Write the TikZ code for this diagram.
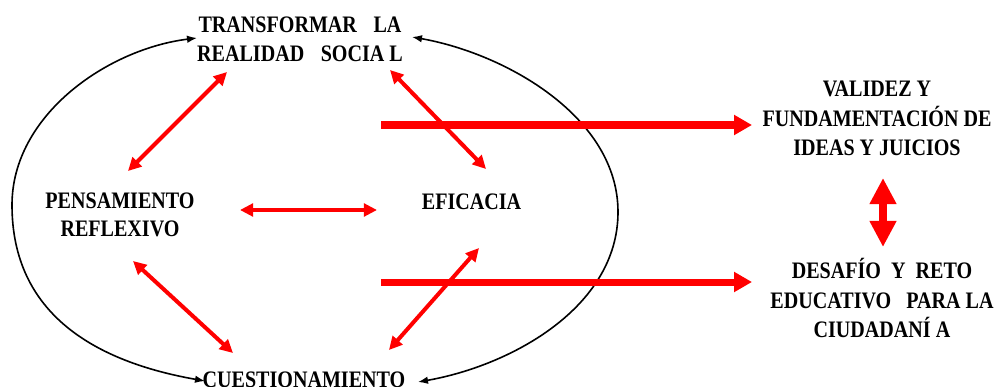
\documentclass[tikz,border=0pt]{standalone}
\usepackage{fontspec}
\setmainfont{Liberation Serif}[FakeStretch=0.85]
\usetikzlibrary{arrows.meta,calc}
\begin{document}
\begin{tikzpicture}[x=0.025cm,y=0.025cm,
  lbl/.style={font=\bfseries\fontsize{16.8}{21}\selectfont, align=center, inner sep=0pt, text=black},
  redthin/.style={draw=red, line width=0.1cm, {Triangle[length=0.33cm,width=0.32cm]}-{Triangle[length=0.33cm,width=0.32cm]}},
  redthick/.style={draw=red, line width=0.175cm, -{Triangle[length=0.45cm,width=0.48cm]}},
  redvert/.style={draw=red, line width=0.2cm, {Triangle[length=0.65cm,width=0.63cm]}-{Triangle[length=0.65cm,width=0.63cm]}},
  blackarc/.style={draw=black, line width=0.04cm, {Latex[length=0.25cm,width=0.19cm]}-{Latex[length=0.25cm,width=0.19cm]}}
]
\useasboundingbox (0,0) rectangle (1000,-387);

% text nodes
\node[lbl] (top) at (300,-39.5) {TRANSFORMAR\hspace{0.7em}LA\\REALIDAD\hspace{0.7em}SOCIA~L};
\node[lbl] (bot) at (304,-380) {CUESTIONAMIENTO};
\node[lbl] (pens) at (120,-214.5) {PENSAMIENTO\\[-1.2pt]REFLEXIVO};
\node[lbl] (efic) at (471.5,-202) {EFICACIA};
\node[lbl] (valid) at (877,-118.5) {VALIDEZ Y\\FUNDAMENTACIÓN DE\\IDEAS Y JUICIOS};
\node[lbl] (desaf) at (882,-300.5) {DESAF\smash{Í}O~~Y~~RETO\\EDUCATIVO~~~PARA LA\\CIUDADAN\smash{Í}~A};

% black curved connectors (ellipse)
\coordinate (tl) at (197,-38);
\coordinate (bl) at (205,-381);
\coordinate (lm) at (12,-205);
\coordinate (tr) at (412,-37);
\coordinate (br) at (418,-382);
\coordinate (rm) at (618,-212);
\draw[blackarc] (tl) .. controls (107.7,-49) and (12,-115) .. (lm)
                     .. controls (12,-315) and (96.7,-361.9) .. (bl);
\draw[blackarc] (tr) .. controls (505.6,-53.5) and (618,-117) .. (rm)
                     .. controls (618,-307) and (511.6,-365.5) .. (br);

% thin red double arrows
\coordinate (a1s) at (227,-72);  \coordinate (a1e) at (128,-171);
\coordinate (a2s) at (390,-70);  \coordinate (a2e) at (486,-169);
\coordinate (a3s) at (240,-210); \coordinate (a3e) at (377,-210);
\coordinate (a4s) at (133,-261); \coordinate (a4e) at (233,-353);
\coordinate (a5s) at (479,-248); \coordinate (a5e) at (389,-350);
\draw[redthin] (a1s) -- (a1e);
\draw[redthin] (a2s) -- (a2e);
\draw[redthin] (a3s) -- (a3e);
\draw[redthin] (a4s) -- (a4e);
\draw[redthin] (a5s) -- (a5e);

% thick red arrows to the right
\coordinate (t1s) at (381,-125); \coordinate (t1e) at (752,-125);
\coordinate (t2s) at (381,-282); \coordinate (t2e) at (752,-282);
\draw[redthick] (t1s) -- (t1e);
\draw[redthick] (t2s) -- (t2e);

% vertical double arrow
\coordinate (v1) at (883,-178); \coordinate (v2) at (883,-247);
\draw[redvert] (v1) -- (v2);
\end{tikzpicture}
\end{document}
